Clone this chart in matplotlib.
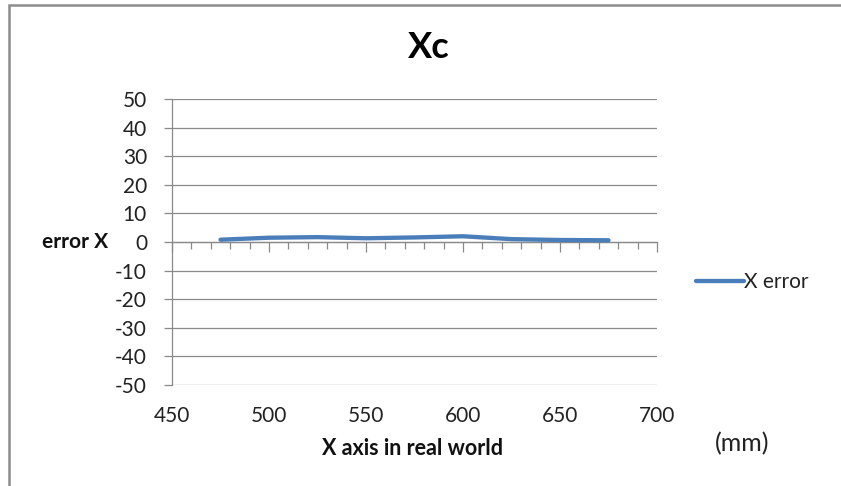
import matplotlib
matplotlib.use("Agg")
import matplotlib.pyplot as plt
from matplotlib.ticker import MultipleLocator
from matplotlib.patches import Rectangle

# Measured positions along the real-world X axis (mm) and the error at each
x_mm = [475, 500, 525, 550, 575, 600, 625, 650, 675]
x_error = [0.8, 1.5, 1.7, 1.3, 1.6, 2.0, 1.0, 0.7, 0.6]

x_ticks = [450, 500, 550, 600, 650, 700]
y_ticks = [50, 40, 30, 20, 10, 0, -10, -20, -30, -40, -50]

title = "Xc"
series_name = "X error"
x_label = "X axis in real world"
y_label = "error X"
unit_label = "(mm)"

FONT = ["Lato", "DejaVu Sans"]
plt.rcParams["font.family"] = FONT
plt.rcParams["axes.unicode_minus"] = False

W, H, DPI = 841, 486, 100
fig = plt.figure(figsize=(W / DPI, H / DPI), dpi=DPI)
fig.patch.set_facecolor("white")

# chart frame (its right and bottom edges run off the canvas)
fig.patches.append(Rectangle((9 / W, -0.05), 1.2, 1 - 5 / H + 0.05,
                             transform=fig.transFigure, fill=False,
                             edgecolor="#8c8c8c", linewidth=1.8, zorder=0))

left, right, top, bottom = 172, 657, 99, 385
ax = fig.add_axes([left / W, 1 - bottom / H, (right - left) / W, (bottom - top) / H])

grid_c = "#8a8a8a"
ax.set_xlim(450, 700)
ax.set_ylim(-50, 50)
ax.set_xticks(x_ticks)
ax.set_yticks(y_ticks)
for yv in y_ticks:
    ax.axhline(yv, color=grid_c, linewidth=0.9, zorder=1)

for s in ["top", "right", "bottom"]:
    ax.spines[s].set_visible(False)
ax.spines["left"].set_color(grid_c)
ax.spines["left"].set_linewidth(0.9)

ax.tick_params(axis="x", length=0, pad=15, labelsize=15, labelcolor="#222222")
ax.tick_params(axis="y", length=6, width=0.9, color=grid_c, pad=12,
               labelsize=15, labelcolor="#222222")

# horizontal axis line crossing at zero, with tick marks pointing down
ymin, ymax = ax.get_ylim()
zero_loc = (0 - ymin) / (ymax - ymin)
sec = ax.secondary_xaxis(zero_loc)
sec.set_alignment("bottom")
sec.set_xticks(x_ticks)
sec.xaxis.set_minor_locator(MultipleLocator(10))
sec.tick_params(axis="x", which="major", direction="out", length=7, width=0.9,
                color=grid_c, labelbottom=False, labeltop=False)
sec.tick_params(axis="x", which="minor", direction="out", length=5, width=0.9,
                color=grid_c)
sec.spines["bottom"].set_color(grid_c)
sec.spines["bottom"].set_linewidth(0.9)
sec.set_xticklabels([])

line, = ax.plot(x_mm, x_error, color="#4a7ebb", linewidth=3.1,
                solid_capstyle="round", solid_joinstyle="round", zorder=3,
                label=series_name)

ax.text((429 - left) / (right - left), (bottom - 48) / (bottom - top), title,
        transform=ax.transAxes, ha="center", va="center",
        fontsize=26, fontweight="bold", color="black")

ax.set_xlabel(x_label, fontsize=15.5, fontweight="bold", color="#111111")
ax.xaxis.set_label_coords((413 - left) / (right - left), -(448 - bottom) / (bottom - top))
ax.xaxis.label.set_va("center")

ax.set_ylabel(y_label, fontsize=15, fontweight="bold", color="#111111",
              rotation=0, ha="right", va="center")
ax.yaxis.set_label_coords((108 - left) / (right - left), 0.5)

fig.text(742 / W, 1 - 444 / H, unit_label, ha="center", va="center",
         fontsize=18, color="#222222")

fig.legend(handles=[line], loc="center left",
           bbox_to_anchor=(696 / W, 1 - 282 / H), frameon=False,
           fontsize=15, handlelength=2.3, handletextpad=0.0,
           borderpad=0, borderaxespad=0, labelcolor="#222222")

fig.savefig("out.png", dpi=DPI, facecolor="white")
